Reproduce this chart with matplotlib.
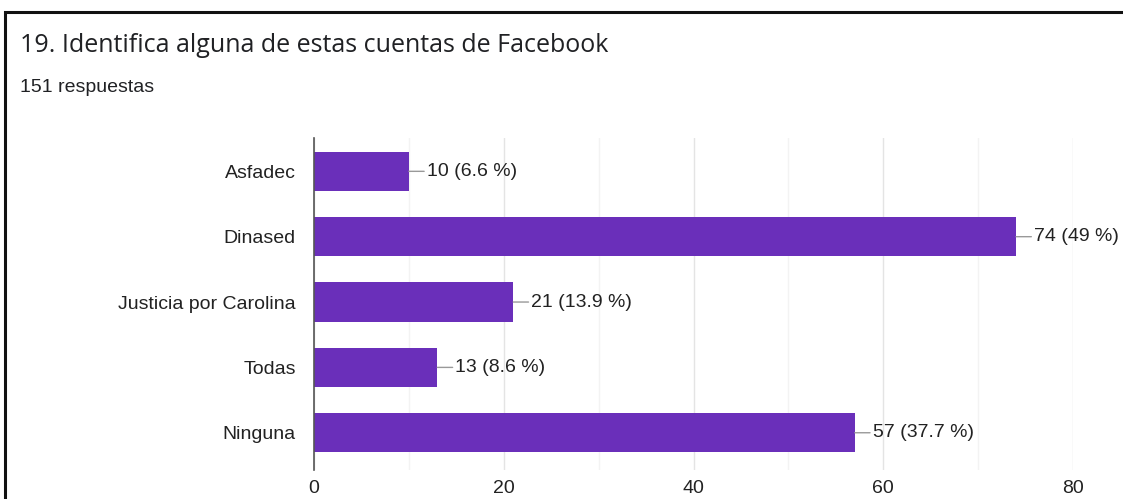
import matplotlib.pyplot as plt
from matplotlib.patches import Rectangle

categories = ["Asfadec", "Dinased", "Justicia por Carolina", "Todas", "Ninguna"]
counts = [10, 74, 21, 13, 57]
percents = ["6.6", "49", "13.9", "8.6", "37.7"]
total = 151
title = "19. Identifica alguna de estas cuentas de Facebook"

bar_color = "#6a2fba"
label_font = ["Liberation Sans", "DejaVu Sans"]

fig = plt.figure(figsize=(11.23, 4.99), dpi=100)
fig.patch.set_facecolor("white")

# screenshot frame
fig.patches.append(Rectangle((5 / 1123, -0.1), 1.2, 1 - 12 / 499 + 0.1,
                             transform=fig.transFigure, fill=False,
                             edgecolor="#111111", linewidth=2.2))

fig.text(20 / 1123, 1 - 45 / 499, title, fontsize=18, family=["Open Sans", "DejaVu Sans"],
         color="#202124", va="center", ha="left")
fig.text(20 / 1123, 1 - 88 / 499, f"{total} respuestas", fontsize=14,
         family=label_font, color="#202124", va="center", ha="left")

ax = fig.add_axes([314 / 1123, 1 - 470 / 499, (1073 - 314) / 1123, (470 - 138) / 499])
ypos = list(range(len(categories)))
ax.barh(ypos, counts, height=0.6, color=bar_color, zorder=3)

ax.set_xlim(0, 80)
ax.set_ylim(4.57, -0.51)
ax.set_xticks([0, 20, 40, 60, 80])
ax.set_xticks([10, 30, 50, 70], minor=True)
ax.grid(axis="x", which="major", color="#e4e4e4", linewidth=1, zorder=0)
ax.grid(axis="x", which="minor", color="#f3f3f3", linewidth=1, zorder=0)
ax.set_yticks(ypos)
ax.set_yticklabels(categories)
ax.tick_params(axis="both", which="both", length=0, labelsize=14, colors="#222222")
ax.tick_params(axis="y", pad=13)
ax.tick_params(axis="x", pad=7)
for lab in ax.get_xticklabels() + ax.get_yticklabels():
    lab.set_family(label_font)

for s in ["top", "right", "bottom"]:
    ax.spines[s].set_visible(False)
ax.spines["left"].set_color("#555555")
ax.spines["left"].set_linewidth(1.2)
ax.spines["left"].set_zorder(4)

for i, (c, p) in enumerate(zip(counts, percents)):
    ax.annotate(f"{c} ({p} %)", xy=(c, i), xytext=(13, 0), textcoords="offset points",
                ha="left", va="center", fontsize=14, family=label_font, color="#222222",
                arrowprops=dict(arrowstyle="-", color="#999999", lw=1,
                                shrinkA=0, shrinkB=0))

fig.savefig("out.png", dpi=100)
